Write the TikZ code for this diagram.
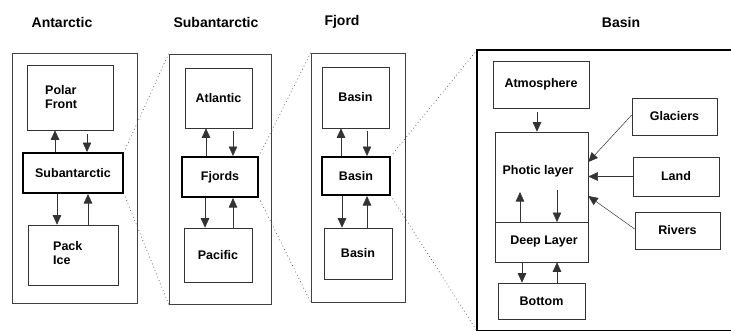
\documentclass[tikz,border=0pt]{standalone}
\usepackage{fontspec}
\setmainfont{Liberation Sans}
\usetikzlibrary{arrows.meta,shadows}

\tikzset{
  lbl/.style={font=\bfseries\fontsize{12.5}{14.5}\selectfont, inner sep=0pt},
  ttl/.style={font=\bfseries\fontsize{14}{16}\selectfont, inner sep=0pt},
  panel/.style={draw=black!75, line width=0.6pt, inner sep=0pt},
  boxc/.style={draw=black!80, fill=white, line width=0.6pt, inner sep=0pt,
    lbl, drop shadow={shadow xshift=1.3pt, shadow yshift=-1.3pt, fill=black!70, opacity=1}},
  hub/.style={draw=black, fill=white, line width=2pt, inner sep=0pt, lbl},
  arr/.style={draw=black!80, line width=0.6pt, -{Triangle[length=9.5pt,width=8.5pt]}},
  zoomline/.style={draw=black!65, line width=0.7pt, dash pattern=on 0.8pt off 2.8pt, shorten <=3pt},
}

\begin{document}
\begin{tikzpicture}[x=1pt, y=-1pt]
\useasboundingbox (0,0) rectangle (731,330);

% column titles
\node[ttl] (tA) at (62,22) {Antarctic};
\node[ttl] (tS) at (216,22) {Subantarctic};
\node[ttl] (tF) at (342,22) {Fjord};
\node[ttl] (tB) at (621,22) {Basin};

% ---------- Antarctic ----------
\node[panel, minimum width=125pt, minimum height=250pt] (pA) at (74.5,178) {};
\node[boxc, minimum width=86pt, minimum height=65pt] (pf) at (70,97.5) {};
\node[lbl, anchor=west, align=left] (pft) at (45,97) {Polar\\Front};
\node[hub, minimum width=100pt, minimum height=40pt] (sa) at (73,173) {Subantarctic};
\node[boxc, minimum width=90pt, minimum height=60pt] (pi) at (73,255) {};
\node[lbl, anchor=west, align=left] (pit) at (53,253) {Pack\\Ice};

\draw[arr] ([xshift=-18pt]sa.north) -- ([xshift=-18pt]sa.north |- pf.south);
\draw[arr] ([xshift=14pt]sa.north |- pf.south) ++(0,4) -- ([xshift=14pt]sa.north);
\draw[arr] ([xshift=-16pt]sa.south) -- ([xshift=-16pt]sa.south |- pi.north);
\draw[arr] ([xshift=15pt]sa.south |- pi.north) -- ([xshift=15pt]sa.south);

% ---------- Subantarctic ----------
\node[panel, minimum width=102pt, minimum height=250pt] (pS) at (220,179) {};
\node[boxc, minimum width=67pt, minimum height=60pt] (at) at (218.5,98) {Atlantic};
\node[hub, minimum width=76pt, minimum height=40pt] (fj) at (220,177) {Fjords};
\node[boxc, minimum width=68pt, minimum height=54pt] (pc) at (218,255) {Pacific};

\draw[arr] ([xshift=-14pt]fj.north) -- ([xshift=-14pt]fj.north |- at.south);
\draw[arr] ([xshift=13pt]fj.north |- at.south) ++(0,3) -- ([xshift=13pt]fj.north);
\draw[arr] ([xshift=-15pt]fj.south) -- ([xshift=-15pt]fj.south |- pc.north);
\draw[arr] ([xshift=13pt]fj.south |- pc.north) -- ([xshift=13pt]fj.south);

% ---------- Fjord ----------
\node[panel, minimum width=94pt, minimum height=249pt] (pF) at (358,177.5) {};
\node[boxc, minimum width=67pt, minimum height=61pt] (b1) at (355.5,97.5) {Basin};
\node[hub, minimum width=68pt, minimum height=38pt] (b2) at (356,176) {Basin};
\node[boxc, minimum width=68pt, minimum height=51pt] (b3) at (358,253.5) {Basin};

\draw[arr] ([xshift=-15pt]b2.north) -- ([xshift=-15pt]b2.north |- b1.south);
\draw[arr] ([xshift=11pt]b2.north |- b1.south) ++(0,3) -- ([xshift=11pt]b2.north);
\draw[arr] ([xshift=-14pt]b2.south) -- ([xshift=-14pt]b2.south |- b3.north);
\draw[arr] ([xshift=11pt]b2.south |- b3.north) -- ([xshift=11pt]b2.south);

% ---------- Basin (enlarged) ----------
\coordinate (bigNW) at (477,50);
\coordinate (bigSW) at (477,331);
\begin{scope}
  \clip (0,0) rectangle (731,330);
  \draw[line width=2.4pt] (bigSW) -- (bigNW) -- (760,50) -- (760,331) -- cycle;
\end{scope}

\node[boxc, minimum width=96pt, minimum height=47pt] (atm) at (541,84.5) {Atmosphere};
\node[draw=black!80, fill=white, line width=0.6pt, minimum width=93pt, minimum height=130pt] (col) at (541.5,197) {};
\draw[black!80, line width=0.6pt] ([yshift=-25pt]col.west) -- ([yshift=-25pt]col.east);
\node[lbl] (pht) at (538,171) {Photic layer};
\node[lbl] (dpl) at (544,241) {Deep Layer};
\draw[arr] ([xshift=-21.5pt,yshift=-25pt]col.center) -- ([xshift=-21.5pt,yshift=5pt]col.center);
\draw[arr] ([xshift=15.5pt,yshift=7pt]col.center) -- ([xshift=15.5pt,yshift=-25pt]col.center);

\node[boxc, minimum width=87pt, minimum height=36pt] (bot) at (541.5,301) {Bottom};

\node[boxc, minimum width=85pt, minimum height=37pt] (gl) at (674.5,116.5) {Glaciers};
\node[boxc, minimum width=86pt, minimum height=39pt] (ld) at (676,176.5) {Land};
\node[boxc, minimum width=85pt, minimum height=37pt] (rv) at (677.5,230.5) {Rivers};

\draw[arr] ([xshift=-4pt]atm.south) ++(0,4) -- ([xshift=-4pt]atm.south |- col.north);
\draw[arr] ([xshift=-19.5pt]col.south) -- ([xshift=-19.5pt]col.south |- bot.north);
\draw[arr] ([xshift=15.5pt]col.south |- bot.north) -- ([xshift=15.5pt]col.south);

\draw[arr, line width=0.5pt] ([yshift=1.5pt]gl.west) -- ([yshift=35pt]col.east);
\draw[arr, line width=0.5pt] (ld.west) -- (ld.west -| col.east);
\draw[arr, line width=0.5pt] ([yshift=1.5pt]rv.west) -- ([yshift=1pt]col.east);

% ---------- zoom guides ----------
\draw[zoomline] (sa.north east) -- (pS.north west);
\draw[zoomline] (sa.south east) -- (pS.south west);
\draw[zoomline] (fj.north east) -- (pF.north west);
\draw[zoomline] (fj.south east) -- (pF.south west);
\draw[zoomline] (b2.north east) -- (bigNW);
\draw[zoomline] (b2.south east) -- (bigSW);
\end{tikzpicture}
\end{document}
